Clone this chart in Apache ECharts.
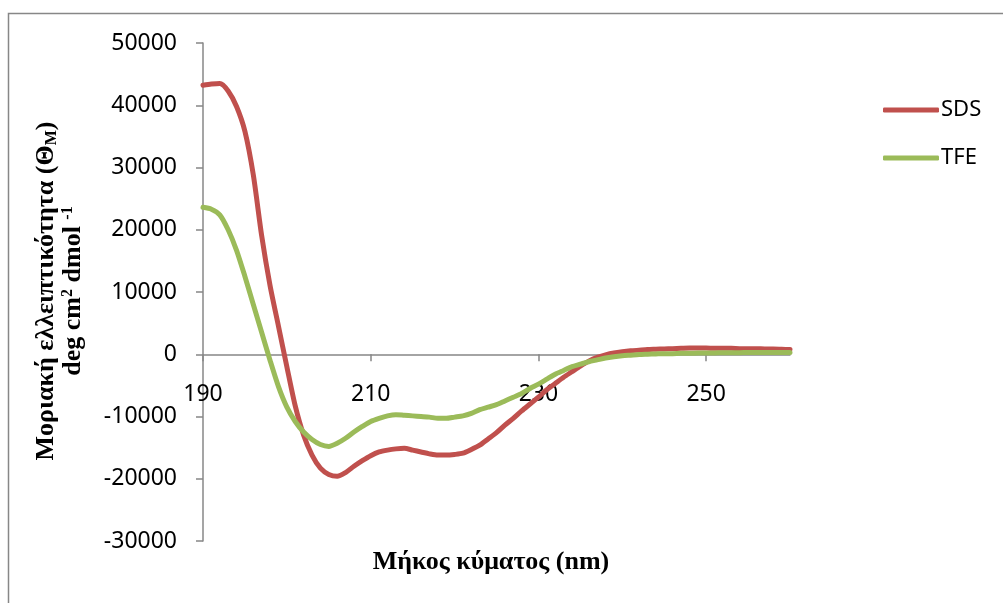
<!DOCTYPE html>
<html>
<head>
<meta charset="utf-8">
<script src="https://cdn.jsdelivr.net/npm/echarts@6/dist/echarts.min.js"></script>
<style>
  html, body { margin: 0; padding: 0; background: #fff; }
  #chart { width: 1003px; height: 603px; }
</style>
</head>
<body>
<div id="chart"></div>
<script>
// Wavelength (nm) and mean residue ellipticity for the two solvents
const wavelengths = [
  190,191,192,193,194,195,196,197,198,199,
  200,201,202,203,204,205,206,207,208,209,
  210,211,212,213,214,215,216,217,218,219,
  220,221,222,223,224,225,226,227,228,229,
  230,231,232,233,234,235,236,237,238,239,
  240,241,242,243,244,245,246,247,248,249,
  250,251,252,253,254,255,256,257,258,259,260
];
const sdsValues = [
  43200,43400,43500,42300,39800,35800,28800,19000,11000,4500,
  -2000,-8300,-13000,-16200,-18300,-19300,-19600,-19000,-18000,-17100,
  -16300,-15700,-15400,-15200,-15100,-15400,-15700,-16000,-16200,-16200,
  -16100,-15900,-15300,-14600,-13600,-12600,-11400,-10300,-9100,-8000,
  -6900,-5700,-4700,-3700,-2800,-1900,-1100,-500,-100,200,
  400,550,650,750,800,850,900,950,1000,1000,
  1000,950,950,950,900,900,900,850,850,800,750
];
const tfeValues = [
  23600,23300,22400,20000,16700,12500,8000,3500,-1000,-5200,
  -8500,-10800,-12500,-13700,-14500,-14800,-14300,-13500,-12500,-11600,
  -10800,-10300,-9900,-9700,-9800,-9900,-10000,-10100,-10300,-10300,
  -10100,-9900,-9500,-8900,-8500,-8100,-7500,-6900,-6300,-5500,
  -4800,-4000,-3200,-2600,-2000,-1600,-1200,-900,-600,-400,
  -250,-150,-50,0,50,100,100,150,150,200,
  200,200,250,250,250,300,300,300,300,300,300
];
const seriesNames = ['SDS', 'TFE'];
const xTickLabels = [190, 210, 230, 250];
const yAxisTitle = ['Μοριακή ελλειπτικότητα (Θ', 'M', ')', 'deg cm', '2', ' dmol ', '-1'];
const xAxisTitle = 'Μήκος κύματος (nm)';

const pairs = vals => wavelengths.map((w, i) => [w, vals[i]]);

const axisGray = '#878787';
const labelFont = "'Noto Sans', sans-serif";
const serifFont = "'Liberation Serif', 'DejaVu Serif', serif";

const chart = echarts.init(document.getElementById('chart'), null, { renderer: 'canvas' });
chart.setOption({
  animation: false,
  backgroundColor: '#ffffff',
  color: ['#C0504D', '#9BBB59'],
  grid: { left: 203, right: 213, top: 43, bottom: 62, containLabel: false },
  legend: {
    orient: 'vertical',
    left: 878,
    top: 94,
    icon: 'roundRect',
    itemWidth: 56,
    itemHeight: 5,
    itemGap: 26,
    textStyle: { fontFamily: labelFont, fontSize: 22, color: '#000', padding: [0, 0, 0, -3] },
    data: seriesNames
  },
  xAxis: {
    type: 'value',
    min: 190,
    max: 260,
    interval: 20,
    axisLine: { onZero: true, lineStyle: { color: axisGray, width: 1.5 } },
    axisTick: { show: true, length: 7, customValues: xTickLabels, lineStyle: { color: axisGray, width: 1.5 } },
    axisLabel: {
      customValues: xTickLabels,
      // labels sit just below the zero line, not at the grid bottom
      margin: -158,
      fontFamily: labelFont,
      fontSize: 23,
      color: '#000'
    },
    splitLine: { show: false }
  },
  yAxis: {
    type: 'value',
    min: -30000,
    max: 50000,
    interval: 10000,
    axisLine: { show: true, onZero: false, lineStyle: { color: axisGray, width: 1.5 } },
    axisTick: { show: true, length: 7, lineStyle: { color: axisGray, width: 1.5 } },
    axisLabel: {
      margin: 26,
      fontFamily: labelFont,
      fontSize: 23,
      color: '#000',
      formatter: v => String(v)
    },
    splitLine: { show: false }
  },
  series: [
    {
      name: seriesNames[0],
      type: 'line',
      data: pairs(sdsValues),
      symbol: 'none',
      smooth: 0.25,
      lineStyle: { width: 5, cap: 'round', join: 'round' },
      z: 3
    },
    {
      name: seriesNames[1],
      type: 'line',
      data: pairs(tfeValues),
      symbol: 'none',
      smooth: 0.25,
      lineStyle: { width: 5, cap: 'round', join: 'round' },
      z: 4
    }
  ],
  graphic: [
    {
      type: 'rect',
      z: -10,
      shape: { x: 8.5, y: 13.5, width: 1010, height: 620 },
      style: { fill: 'none', stroke: axisGray, lineWidth: 1.5 }
    },
    {
      type: 'text',
      x: 60,
      y: 291,
      rotation: Math.PI / 2,
      style: {
        text: '{b|' + yAxisTitle[0] + '}{sub|' + yAxisTitle[1] + '}{b|' + yAxisTitle[2] + '}\n' +
              '{b|' + yAxisTitle[3] + '}{sup|' + yAxisTitle[4] + '}{b|' + yAxisTitle[5] + '}{sup|' + yAxisTitle[6] + '}',
        align: 'center',
        verticalAlign: 'middle',
        fill: '#000',
        rich: {
          b: { fontFamily: serifFont, fontWeight: 'bold', fontSize: 26, lineHeight: 27, fill: '#000' },
          sub: { fontFamily: serifFont, fontWeight: 'bold', fontSize: 16, lineHeight: 14, verticalAlign: 'bottom', fill: '#000' },
          sup: { fontFamily: serifFont, fontWeight: 'bold', fontSize: 16, lineHeight: 14, verticalAlign: 'top', fill: '#000' }
        }
      }
    },
    {
      type: 'text',
      x: 491,
      y: 562,
      style: {
        text: xAxisTitle,
        align: 'center',
        verticalAlign: 'middle',
        fontFamily: serifFont,
        fontWeight: 'bold',
        fontSize: 26,
        fill: '#000'
      }
    }
  ]
});
</script>
</body>
</html>
